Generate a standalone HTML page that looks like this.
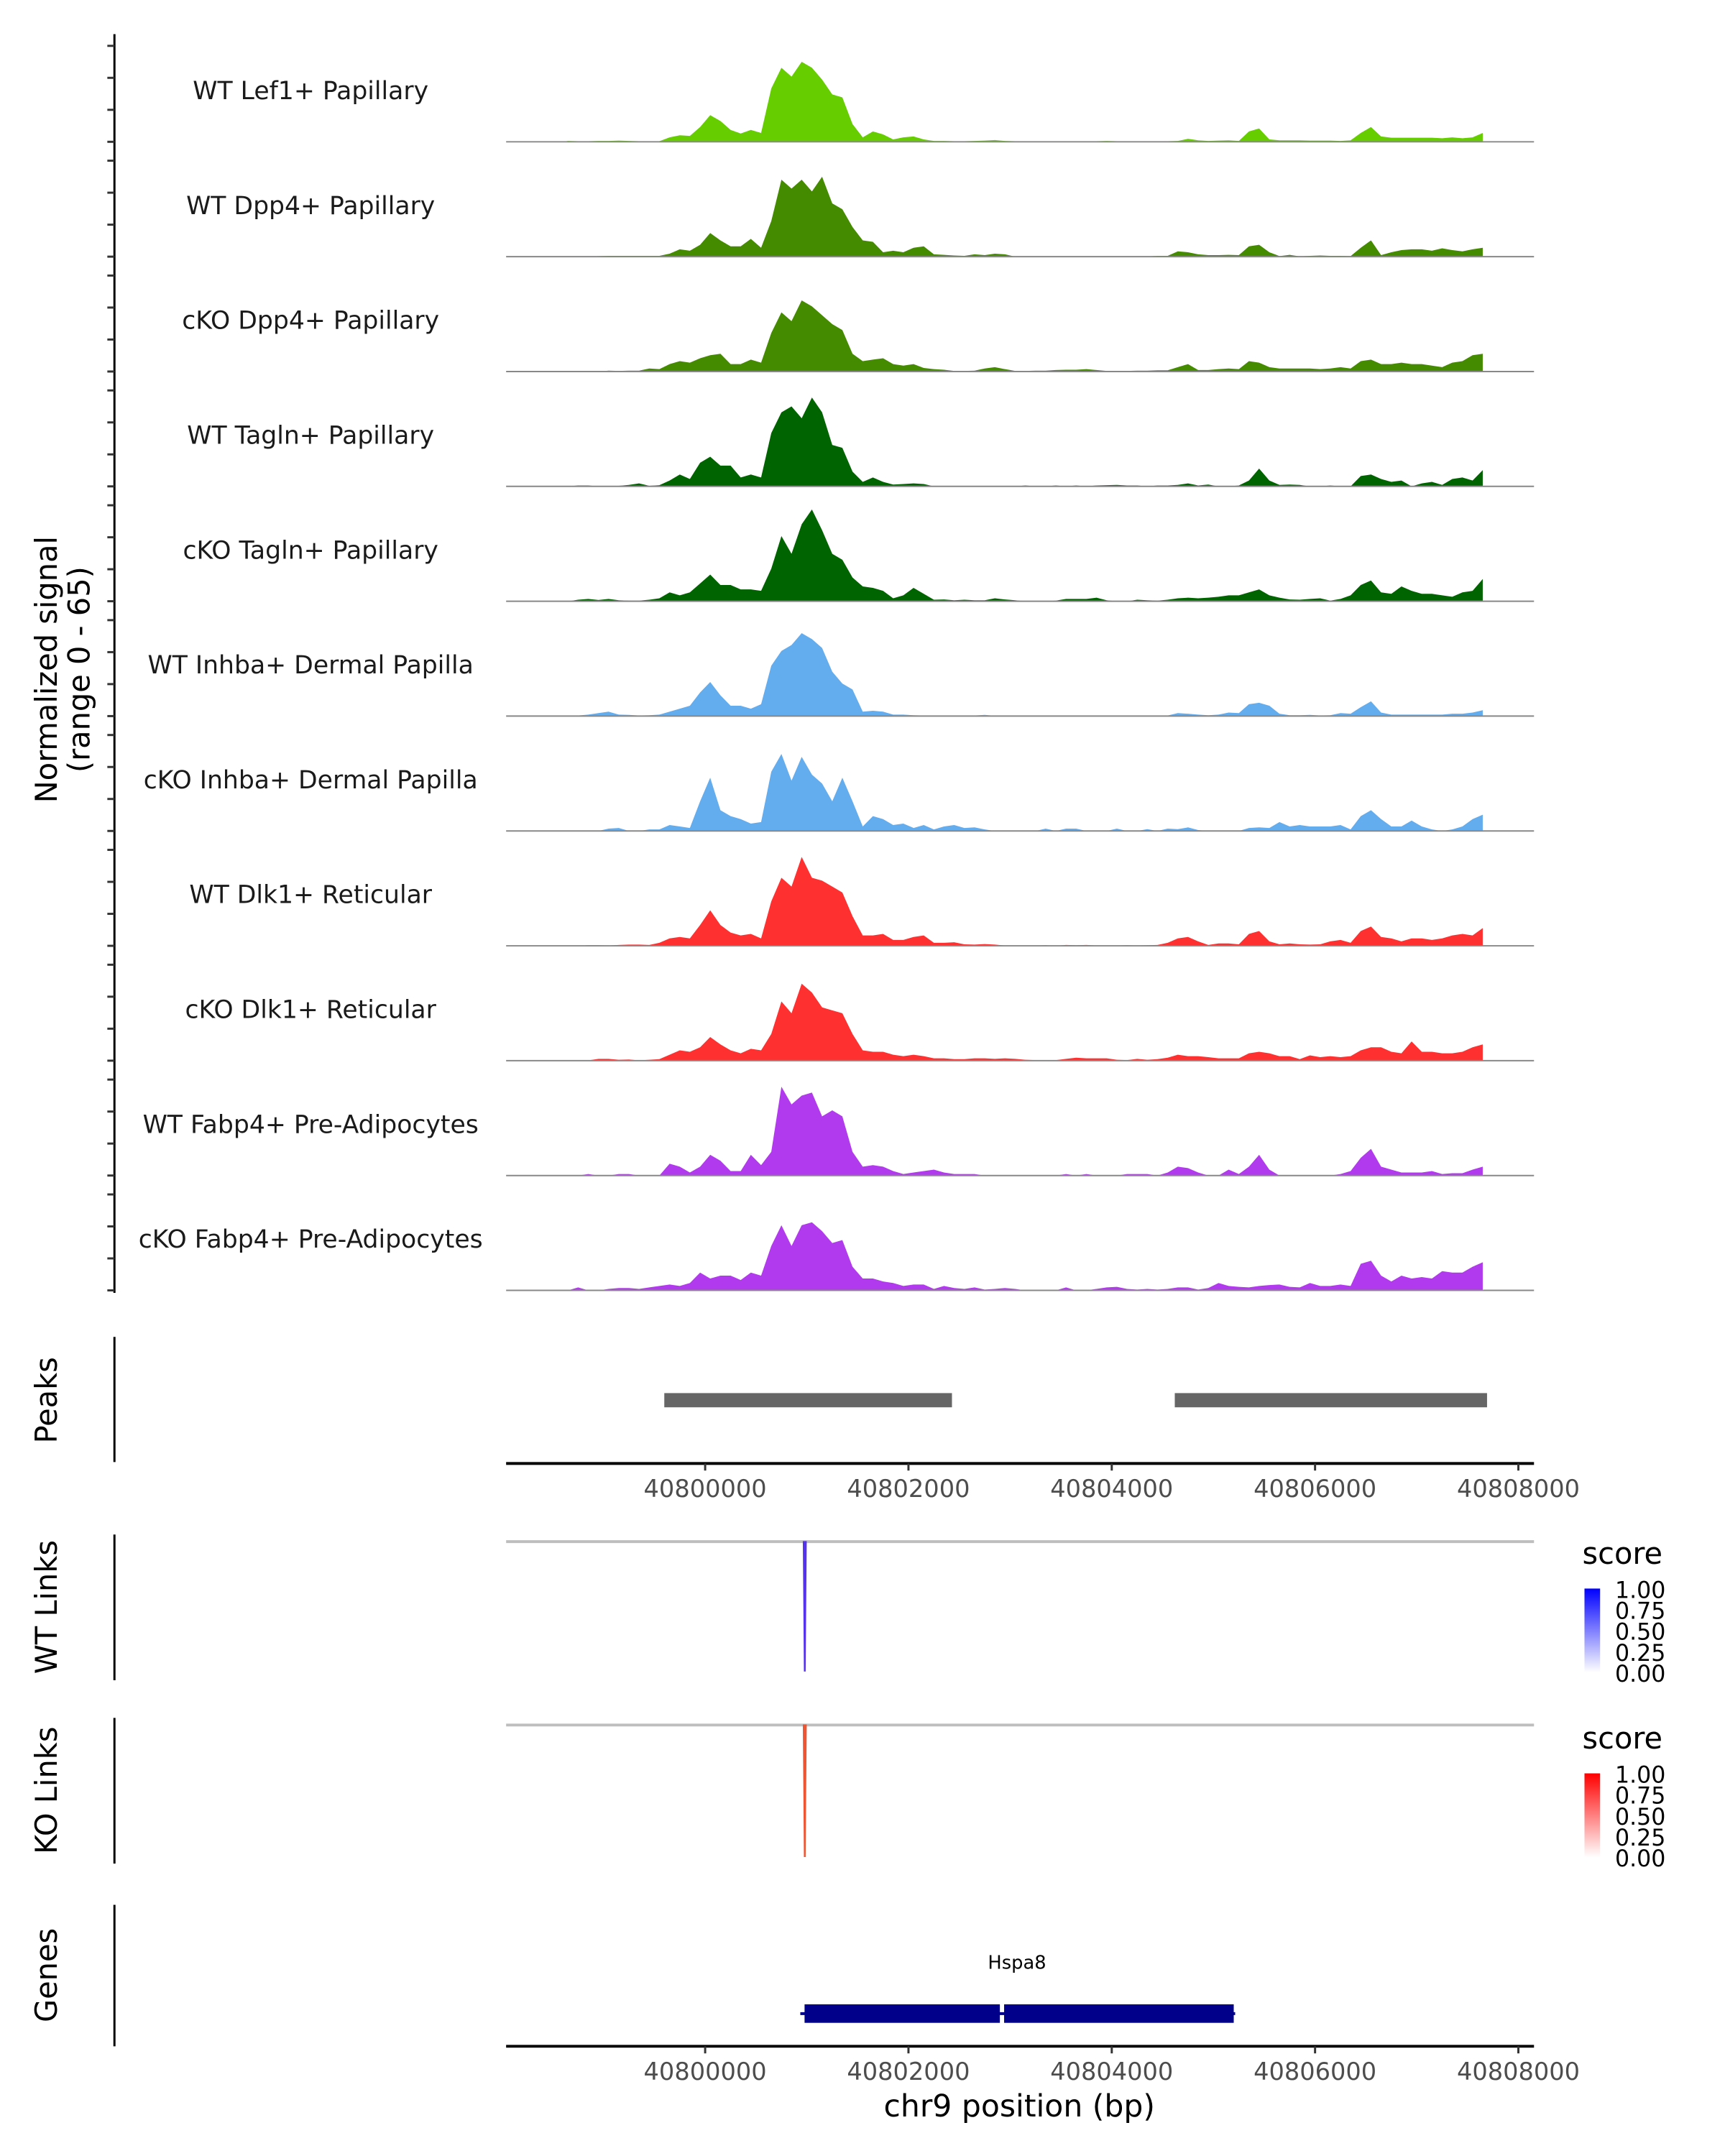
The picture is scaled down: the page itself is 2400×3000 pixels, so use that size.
<!DOCTYPE html>
<html><head><meta charset="utf-8"><style>
html,body{margin:0;padding:0;background:#fff;}
svg{display:block;font-family:"DejaVu Sans","Liberation Sans",sans-serif;}
</style></head><body>
<svg id="chart" width="2400" height="3000" viewBox="0 0 2400 3000" xmlns="http://www.w3.org/2000/svg">
<rect x="0" y="0" width="2400" height="3000" fill="#fff"/>
<g id="root" transform="scale(0.989)"></g>
</svg>
<script>
const trackNames = ["WT Lef1+ Papillary","WT Dpp4+ Papillary","cKO Dpp4+ Papillary","WT Tagln+ Papillary","cKO Tagln+ Papillary","WT Inhba+ Dermal Papilla","cKO Inhba+ Dermal Papilla","WT Dlk1+ Reticular","cKO Dlk1+ Reticular","WT Fabp4+ Pre-Adipocytes","cKO Fabp4+ Pre-Adipocytes"];
const trackColors = ["#66CD00","#458B00","#458B00","#006400","#006400","#63ACEE","#63ACEE","#FF3030","#FF3030","#B23AEE","#B23AEE"];
const binStart = 40798600;
const binSize = 100;
const sigLef1WT = [3,2,2,3,3,4,3,2,2,2,15,22,20,50,90,70,40,28,40,30,180,250,220,270,250,210,160,150,60,15,35,25,8,15,18,8,3,3,2,2,3,4,6,3,2,2,2,2,2,2,2,2,2,3,2,2,2,2,2,2,3,10,5,3,4,5,3,35,45,8,5,5,5,4,4,4,3,5,30,50,18,14,14,14,14,14,12,15,12,15,30];
const sigDpp4WT = [0,0,0,2,3,3,3,3,3,3,10,25,20,40,80,55,35,35,60,30,120,260,230,260,220,270,180,160,100,55,50,15,20,15,30,35,8,6,4,3,8,5,10,8,0,0,0,1,1,1,1,1,1,1,1,1,1,1,3,3,18,15,8,5,5,6,5,35,40,15,2,6,1,3,4,3,3,2,30,55,5,15,22,25,25,20,28,22,18,25,30];
const sigDpp4KO = [0,2,0,0,3,2,3,3,10,8,25,35,30,45,55,60,25,25,40,30,130,200,170,240,220,190,160,140,60,35,40,45,25,20,25,12,8,6,2,2,3,10,15,8,2,2,3,3,5,6,6,8,5,2,2,2,3,3,4,4,15,25,5,5,8,10,8,35,30,15,10,10,10,10,8,10,15,10,35,40,25,25,30,25,25,20,15,30,35,55,60];
const sigTaglnWT = [0,3,3,0,0,2,5,10,2,4,20,40,25,80,100,70,70,30,40,30,180,250,270,230,300,250,140,130,50,15,30,15,6,8,10,8,0,0,0,0,0,0,0,0,0,3,0,0,3,0,3,0,3,4,5,3,3,0,3,3,5,10,3,6,0,0,3,20,60,20,5,6,5,0,0,3,0,0,35,40,25,15,20,0,10,15,5,25,30,20,55];
const sigTaglnKO = [0,5,8,4,8,3,2,2,5,10,30,20,30,60,90,55,55,40,40,35,110,220,160,260,310,240,160,140,80,50,45,35,10,20,45,25,5,6,3,5,3,3,10,6,3,0,0,0,2,8,8,8,12,3,0,0,5,3,2,5,10,12,10,12,15,20,20,30,40,20,12,6,5,8,10,2,8,20,55,70,30,25,50,35,25,25,20,15,30,35,75];
const sigInhbaWT = [0,2,5,10,15,5,4,2,3,5,15,25,35,80,115,70,35,35,25,40,170,220,240,280,260,230,150,110,90,15,18,15,5,5,3,2,2,2,2,2,2,4,1,1,1,1,1,1,2,2,1,1,1,1,1,2,1,1,1,2,10,8,5,3,5,12,10,40,45,35,8,3,3,4,2,3,10,8,30,50,12,5,5,5,5,5,5,8,8,12,20];
const sigInhbaKO = [0,0,0,0,8,10,0,0,5,5,20,15,10,100,180,70,50,40,25,30,200,260,170,250,190,160,100,180,100,15,50,40,20,25,10,20,5,15,20,10,12,5,0,0,0,0,0,8,0,8,8,0,0,0,8,0,0,6,0,8,6,12,3,0,0,0,0,10,12,10,30,15,20,15,15,15,20,5,50,70,40,15,15,35,15,5,0,5,15,40,55];
const sigDlk1WT = [0,0,2,2,1,3,4,4,3,10,25,30,25,70,120,70,45,35,40,25,150,230,200,300,230,220,200,180,100,35,35,40,20,20,30,35,10,10,12,5,4,6,4,1,1,1,1,2,0,3,2,3,1,0,1,2,1,2,3,10,25,30,15,3,8,8,5,40,50,15,5,8,5,4,5,15,20,10,50,65,30,25,15,25,25,20,25,35,40,35,60];
const sigDlk1KO = [0,2,1,6,6,3,4,1,3,5,20,35,30,45,80,55,35,25,40,35,90,200,160,260,230,180,170,160,90,35,30,30,20,15,20,15,8,8,5,5,8,8,6,8,6,3,2,2,2,6,10,8,8,8,3,2,6,3,5,10,20,15,15,12,8,8,8,25,30,25,15,15,5,18,12,15,12,15,35,45,45,30,25,65,30,30,25,25,30,45,55];
const sigFabp4WT = [0,0,5,0,0,5,5,0,0,0,40,30,10,30,70,50,15,15,70,35,80,300,240,270,280,200,220,200,80,30,35,30,15,5,10,15,20,10,5,5,5,0,0,0,0,0,0,0,0,5,0,5,0,0,0,5,5,5,0,10,30,25,10,0,0,20,5,30,70,20,0,0,0,0,0,0,5,15,60,90,30,20,10,10,10,15,5,8,8,20,30];
const sigFabp4KO = [0,10,0,0,5,8,8,5,10,15,20,15,25,60,40,50,50,35,60,50,150,220,150,220,230,200,160,170,80,40,40,30,25,15,20,20,5,15,8,5,10,3,5,8,5,0,0,0,0,10,0,0,5,10,12,5,3,5,3,5,10,10,3,8,25,15,12,10,15,18,20,12,10,25,15,15,20,15,90,100,50,30,50,40,45,40,65,60,60,80,95];
const trackSignals = [sigLef1WT,sigDpp4WT,sigDpp4KO,sigTaglnWT,sigTaglnKO,sigInhbaWT,sigInhbaKO,sigDlk1WT,sigDlk1KO,sigFabp4WT,sigFabp4KO];
const peakStarts = [40799598,40804620];
const peakEnds = [40802428,40807692];
const axisTicks = [40800000,40802000,40804000,40806000,40808000];
const wtLinkPos = [40800980];
const wtLinkScore = [0.85];
const koLinkPos = [40800980];
const koLinkScore = [0.8];
const geneName = ["Hspa8"];
const geneStart = [40800978];
const geneEnd = [40805200];
const legendLabels = ["1.00","0.75","0.50","0.25","0.00"];

const NS="http://www.w3.org/2000/svg";
const root=document.getElementById('root');
function el(tag,attrs,parent){const e=document.createElementNS(NS,tag);for(const k in attrs)e.setAttribute(k,attrs[k]);(parent||root).appendChild(e);return e;}
function xs(pos){return 992+(pos-40800000)*0.143;}
function ys(v){return v/360*150;}

const base0=199.5, step=161.6;
let ax=el('line',{x1:161,y1:48,x2:161,y2:1819,stroke:'#000','stroke-width':3});


for(let k=0;k<trackSignals.length;k++){
  const b=base0+step*k;
  for(let t=0;t<4;t++){
    const tk=el('line',{x1:151,y1:b-45*t,x2:161,y2:b-45*t,stroke:'#333','stroke-width':3});
    
    
  }
  const g=el('g',{});
  
  
  const vals=trackSignals[k];
  let d='M'+xs(binStart).toFixed(1)+','+b;
  for(let i=0;i<vals.length;i++){
    const x=xs(binStart+binSize*i+binSize/2);
    d+=' L'+x.toFixed(1)+','+(b-ys(vals[i])).toFixed(1);
  }
  const xe=xs(binStart+binSize*vals.length-binSize/2);
  d+=' L'+xe.toFixed(1)+','+b+' Z';
  const p=el('path',{d:d,fill:trackColors[k]},g);
  
  
  const bl=el('line',{x1:712,y1:b,x2:2158,y2:b,stroke:'#888','stroke-width':2},g);
  
  
  const tx=el('text',{x:437,y:b-60,'font-size':35,'text-anchor':'middle',fill:'#1a1a1a'},g);
  tx.textContent=trackNames[k];
  
  
}
const yt=el('text',{transform:'translate(80,942) rotate(-90)','font-size':42,'text-anchor':'middle',fill:'#000'});


const yt1=el('tspan',{x:0,y:0},yt);yt1.textContent='Normalized signal';
const yt2=el('tspan',{x:0,y:46},yt);yt2.textContent='(range 0 - 65)';

function sideLabel(txt,cy,name){
  const t=el('text',{transform:'translate(80,'+cy+') rotate(-90)','font-size':42,'text-anchor':'middle',fill:'#000'});
  t.textContent=txt;
  
  
}
function vAxis(y1,y2,name){
  const l=el('line',{x1:161,y1:y1,x2:161,y2:y2,stroke:'#000','stroke-width':3});
  
  
}
function xAxis(y,name){
  const g=el('g',{});
  
  
  el('line',{x1:712,y1:y,x2:2158,y2:y,stroke:'#000','stroke-width':4},g);
  for(const t of axisTicks){
    const tk=el('line',{x1:xs(t),y1:y,x2:xs(t),y2:y+10,stroke:'#333','stroke-width':3},g);
    
    
    const lb=el('text',{x:xs(t),y:y+47,'font-size':34,'text-anchor':'middle',fill:'#4d4d4d'},g);
    lb.textContent=String(t);
    
    
  }
}
vAxis(1881,2057,'peaks-axis');
sideLabel('Peaks',1970,'peaks-label');
for(let i=0;i<peakStarts.length;i++){
  const r=el('rect',{x:xs(peakStarts[i]),y:1960,width:xs(peakEnds[i])-xs(peakStarts[i]),height:20,fill:'#666'});
  
  
}
xAxis(2059,'peaks-x-axis');

function linkTrack(top,bottom,pos,score,color,label,lname,gradId,c1,legendTop){
  vAxis(top-10,top+195,lname+'-axis');
  sideLabel(label,top+92,lname+'-label');
  const gl=el('line',{x1:712,y1:top,x2:2158,y2:top,stroke:'#bebebe','stroke-width':4});
  
  
  for(let i=0;i<pos.length;i++){
    const x=xs(pos[i]);
    const lk=el('path',{d:'M'+(x-2)+','+top+' L'+(x+2)+','+top+' L'+(x+0.5)+','+bottom+' L'+(x-0.5)+','+bottom+' Z',fill:color,stroke:color,'stroke-width':1.5});
    
    
  }
  const lg=el('g',{});
  
  
  const st=el('text',{x:2226,y:legendTop,'font-size':42,fill:'#000'},lg);st.textContent='score';
  const defs=el('defs',{},lg);
  const gr=el('linearGradient',{id:gradId,x1:0,y1:0,x2:0,y2:1},defs);
  el('stop',{offset:'0','stop-color':c1},gr);
  el('stop',{offset:'1','stop-color':'#ffffff'},gr);
  el('rect',{x:2229,y:legendTop+35,width:22,height:118,fill:'url(#'+gradId+')'},lg);
  for(let i=0;i<legendLabels.length;i++){
    const t=el('text',{x:2272,y:legendTop+48+29.5*i,'font-size':32,fill:'#000'},lg);
    t.textContent=legendLabels[i];
  }
}
linkTrack(2169,2351,wtLinkPos,wtLinkScore,'#5533ee','WT Links','wt-links','gblue','#0000ff',2200);
linkTrack(2427,2612,koLinkPos,koLinkScore,'#ee5533','KO Links','ko-links','gred','#ff0000',2460);

vAxis(2680,2879,'genes-axis');
sideLabel('Genes',2779,'genes-label');
for(let i=0;i<geneName.length;i++){
  const x1=xs(geneStart[i]),x2=xs(geneEnd[i]);
  const gg=el('g',{});
  
  
  const mid=x1+(x2-x1)*0.46;
  el('rect',{x:x1,y:2820,width:mid-x1-3,height:26,fill:'#00008b'},gg);
  el('rect',{x:mid+3,y:2820,width:x2-mid-3,height:26,fill:'#00008b'},gg);
  el('line',{x1:x1-6,y1:2833,x2:x2+2,y2:2833,stroke:'#00008b','stroke-width':4},gg);
  const t=el('text',{x:(x1+x2)/2-3,y:2770,'font-size':26,'text-anchor':'middle',fill:'#000'},gg);
  t.textContent=geneName[i];
}
xAxis(2879,'genes-x-axis');
const xt=el('text',{x:1434,y:2978,'font-size':43,'text-anchor':'middle',fill:'#000'});
xt.textContent='chr9 position (bp)';


</script>
</body></html>
